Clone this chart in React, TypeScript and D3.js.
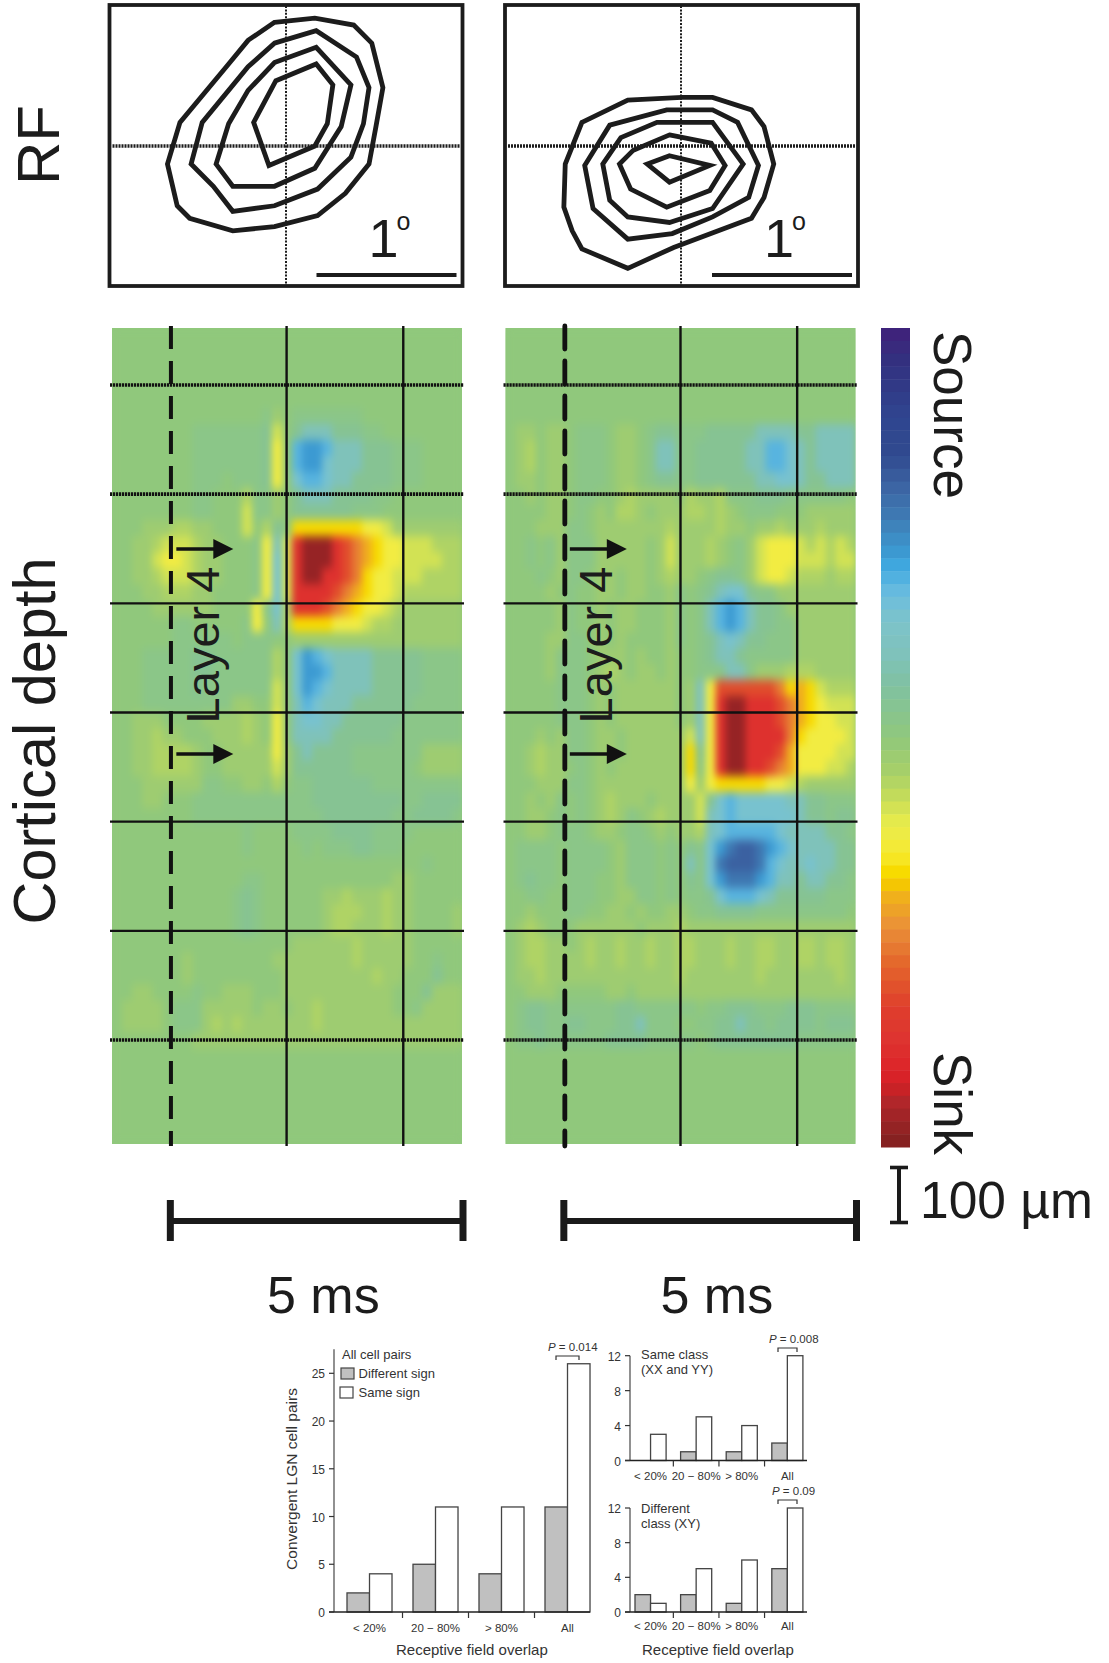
import React from 'react';
import * as d3 from 'd3';

const FONT = '"Liberation Sans", Arial, sans-serif';
const INK = '#1c1c1c';

// receptive field contours, in hundredths of a degree from the cross hair
const rfLeft = [
  [[-9,89],[20,92],[48,87],[61,74],[69,42],[64,14],[59,-13],[42,-34],[22,-50],[-9,-58],[-39,-61],[-70,-52],[-79,-43],[-86,-13],[-77,17],[-42,59],[-28,76]],
  [[-9,74],[21,83],[50,64],[59,42],[55,16],[46,-8],[22,-31],[-9,-43],[-39,-47],[-53,-29],[-69,-13],[-61,17],[-28,57]],
  [[-9,60],[21,71],[46,44],[39,14],[20,-16],[-9,-29],[-39,-29],[-51,-13],[-42,16],[-28,40]],
  [[-8,47],[21,59],[33,44],[29,16],[20,0],[-13,-14],[-24,17]],
];
const rfRight = [
  [[-72,17],[-39,33],[0,35],[22,35],[50,26],[59,14],[66,-13],[59,-37],[50,-52],[-6,-73],[-39,-88],[-72,-74],[-79,-61],[-85,-44],[-84,-13]],
  [[-52,15],[-11,26],[22,26],[40,17],[55,-14],[48,-37],[22,-51],[-7,-63],[-39,-67],[-64,-45],[-70,-14]],
  [[-18,17],[22,17],[44,-13],[22,-45],[-9,-55],[-39,-51],[-52,-39],[-57,-13],[-44,6]],
  [[-9,8],[21,2],[31,-14],[20,-32],[-11,-44],[-37,-31],[-45,-13],[-35,-3]],
  [[-9,-7],[20,-14],[-9,-26],[-25,-13]],
];

// colour bar, top (source) to bottom (sink)
const barStops = [0,.039,.112,.153,.194,.234,.275,.292,.324,.357,.397,.438,.5,.54,.573,.601,.625,.65,.662,.678,.695,.731,.775,.829,.866,.91,.93,.946,1];
const barColors = ['#41207a','#33307f','#2f4690','#30498f','#3c64a3','#3f7db5','#3c9ad2','#40aae0','#6abcdf','#7cc3cb','#7fc2bc','#80c1a0','#90c87c','#a6cf6a','#c4dc5a','#e4ea4c','#f2ec42','#f6e620','#f8de00','#f4c800','#f0b01c','#ea9038','#e4682c','#df3e2c','#de3530','#dc2228','#c82226','#b0262a','#7f2020'];

// one char per cell of the CSD maps
const levels: Record<string, number> = {
  '.': 0, ',': .05, '1': .1, '2': .17, '3': .25, '4': .33, '5': .4, '6': .5, '7': .62, '8': .75, '9': .95,
  ':': -.04, a: -.08, b: -.2, c: -.3, d: -.38, e: -.45, f: -.55, g: -.62,
};

const csdLeft = [
  '', '', '', '', '',
  '...............:,.:::::::...........',
  '........:::::::a2.abbbaaa::........',
  '........:::::::a3.deedbbbaaa:::....',
  '........:::::::a3.deecbbbaaa:::....',
  '........:::.:::a3.cddcbbaaaa:::....',
  '........::...1::,.abbbaaaa::.......',
  '........::...2::,.aaaaaa:::........',
  '...,,,11,,...2.1a.4444444332,,,,,,,',
  '..,,12221,,...:3b289998765433222111',
  '..,,23321,,...:3c289998765433222211',
  '..,,12221,,...:3c289988764332221111',
  '...,,111,,....:3c288887654332111111',
  '....,,,,,,....3:c188876543321,,,,,,',
  '......::.....:3.b14444333211,,,,,,,',
  '......::::::.:::..,,,,,,,,,,,,,,,,,',
  '...:::::aa::::::1.cedcbbbbaaaaa::::',
  '...:::::aa::::::1.ceedbbbbaaaaa::::',
  '...:::::a:::::::2.cedcbbbbaaaaa::::',
  '...:::::::::,,..2.bdcbbbaaaaaa:::::',
  '..,,,....,,,,1,.3.bccbbaaaaaa::::::',
  '..,,1,,...,,,1,.3.bbbbaaaaaa:::::::',
  '..,,1111,..,,,,,3,abaaaa:::::::,,,,',
  '..,,1111,..,,,,,2,aaaaaa::::::.,,,,',
  '...,,,,,,::..,,.1.::aaaaaa:::::::::',
  '...,,...::::::::::::aaaaaaaaa::aaaa',
  '........:::::::::::::aaaaaaa::aaaa:',
  '.............:....::::aaaa::::.....',
  '.............:.....:.:::aa:::......',
  '...............................:...',
  '.............::.............,,.....',
  '............:a:......,,1,,,1,,.....',
  '............:a:......,111,,1,,....,',
  '............:a:......,11,,,1,,....,',
  '..................,,,,,,1,,,,,.....',
  '.......,........,,,,,,,,1,,,,,..:..',
  '.......,.........,,,,,,,,,1,,...a..',
  '..,,....:..,,,...,,,,,,,,,,,...a,,,',
  '.,,,,.:::,,,,,.,,.,,1,,,,,,,..:,,,,',
  '.,,,,.:::,1,1,,,,,,,1,,,,,,,,,,,,,,',
  '........,,,,,,,,,,,,,,,,,,,,,,,,,,,',
];

const csdRight = [
  '', '', '', '', '', '',
  '.,,.,,.:::.,,.:aa:::aaaaabbbbaabbbb',
  '.,1.,,.:::.,,.:bb::aaaaabbddcbabbbb',
  '.,1.,,.:::.,,.:bb::aaaaabbddcbabbbb',
  '.,,.,,.:::.,,.:aa::aaaaaabbccbaabbb',
  '..,.,,.::..,1,,,,.1,,1:::aaa::::::.',
  '....,,.:.,.11,.,,,11,1,.:::...,,,,,',
  '...,,,::.,,,,,,,1,,,,1,,.,,1,,,1,,,',
  '..:.:,:::,,,,,.,2,,,1,.:,2333212121',
  '..:.:,:::,,,,,.,2,,,1,.:,2333222122',
  '...:.,::.,,.,,.,1,,.:aa:,2332111,11',
  '....,.:..,,.,,..,:.:abcca::,,,,,,,,',
  '.....,:..,.,,...,:.:bdedbaa:,,,,,,,',
  '.....,:..,.,,...,:.:bdedbaa::,,,,,,',
  '....,,::.,.,....,:.:abcbaa:::,,,,,,',
  '....,:::.,,,.,..,..:abba:::::,,,,,,',
  '....,:::.,1,.,,.,..:::bb:,,,111,,,,',
  '.....:::.,.,,,,,,.,b377777764542111',
  '.....:::.,.,,,,,,.,b389988876543222',
  '.....:::.,.,,,,,,.,b389988876543322',
  '...,.,::.,,.,,,,,,2b389988886433332',
  '..,1,,::.,,.,,,,,,4a389988875333322',
  '..,1,,.:.,.,,,,,,,4:389988765333221',
  '...,,,::.,,,,,,,,,3,34444433 21,,,,,'.replace(' ', ''),
  '..,.,:.:.,1,,,.,,,,2acdcccccbbaa:::',
  '..,,.:.:.,1,:.,1,,,2bcdccccccbaa:aa',
  '..,,.:::.,,.::.,.,,1bcdddddcbbbbaa:',
  '.::::.::::.,:::.:.a:cefggfedcbbbbaa',
  '.::::.::::.,:::.:.b:cfgggfdcbbcbbaa',
  '.:a::.:::..,:::.:.a:cefffedbbabbaa:',
  '..::..:::..,,::.:.::acdddcbaaaaa:::',
  '..,...::..,,.,..,,.::aaaa:::::::::.',
  '.,1,...,,,,,,.,,,1,,,,,,,,,,,,,,,,,',
  '.,11,,.,1,,1,,1,,11,,,1,,11,,11,11,',
  '.,11,,,,1,,1,,1,,11,,,1,,11,,11,11,',
  '.,,1,,,,,,,,,,,,,1,,,,,,,1,,,,,,,1,',
  '..,,,.....,,.,,,,,,,,,,,,,,,,,,,,,,',
  '.:aa:::::::aa::::::.::aaa:::aaa::::',
  '.:aa::aa:::aab:::..::aabaa:aaaa:aaa',
  '.::a::::::aaaa:::::.:aaaaaaaa::::::',
];

// time of the grid lines in ms, depth lines in um
const timeLines = [0, 2, 4];
const depthLines = [0, 200, 400, 600, 800, 1000, 1200];
const dottedDepths = [0, 200, 1200];

// bar charts
const overlap = ['< 20%', '20 \u2212 80%', '> 80%', 'All'];
const series = ['Different sign', 'Same sign'];
const allDiff = [2, 5, 4, 11];
const allSame = [4, 11, 11, 26];
const sameClassDiff = [0, 1, 1, 2];
const sameClassSame = [3, 5, 4, 12];
const diffClassDiff = [2, 2, 1, 5];
const diffClassSame = [1, 5, 6, 12];

const colorT = d3.scaleLinear<string>().domain(barStops).range(barColors).interpolate(d3.interpolateRgb);
const valueColor = (v: number) => colorT((1 + v) / 2);

const Txt = ({ x, y, size, rotate, anchor, children, ...rest }: any) => (
  <text
    x={rotate ? 0 : x}
    y={rotate ? 0 : y}
    transform={rotate ? `translate(${x},${y}) rotate(${rotate})` : undefined}
    fontSize={size}
    fontFamily={FONT}
    fill={INK}
    textAnchor={anchor || 'start'}
    {...rest}
  >
    {children}
  </text>
);

const RFPanel = ({ left, cx, contours }: any) => {
  const cy = 146;
  const x = d3.scaleLinear().domain([-100, 100]).range([cx - 139, cx + 139]);
  const y = d3.scaleLinear().domain([-100, 100]).range([cy + 139, cy - 139]);
  const path = d3.line<number[]>().x(d => x(d[0])).y(d => y(d[1])).curve(d3.curveLinearClosed);
  return (
    <g>
      <rect x={left} y={5} width={353} height={281} fill="#fff" stroke={INK} strokeWidth={3.8} />
      <line x1={left + 3} x2={left + 350} y1={cy} y2={cy} stroke={INK} strokeWidth={3.4} strokeDasharray="2 1" />
      <line x1={cx - 1} x2={cx - 1} y1={6} y2={285} stroke={INK} strokeWidth={2} strokeDasharray="2 1.4" />
      {contours.map((c: number[][], i: number) => (
        <path key={i} d={path(c) || ''} fill="none" stroke={INK} strokeWidth={4.8} strokeLinejoin="miter" />
      ))}
      <line x1={left + 207} x2={left + 347} y1={275} y2={275} stroke={INK} strokeWidth={3.8} />
      <Txt x={left + 259} y={257} size={54}>1</Txt>
      <Txt x={left + 287} y={230} size={25}>o</Txt>
    </g>
  );
};

const CSDPanel = ({ id, left, zero, rows, dashW }: any) => {
  const nCols = 35;
  const nRows = 51;
  const top = 328;
  const bottom = 1144;
  const cols = d3.scaleBand<number>().domain(d3.range(nCols)).range([left, left + 350]);
  const rws = d3.scaleBand<number>().domain(d3.range(nRows)).range([top, bottom]);
  const time = d3.scaleLinear().domain([-1, 5]).range([left, left + 350]);
  const depth = d3.scaleLinear().domain([0, 1200]).range([385, 1040]);
  const cells: any[] = [];
  d3.range(nRows).forEach(r => {
    const row = (rows[r] || '').padEnd(nCols, '.');
    d3.range(nCols).forEach(c => {
      const v = levels[row[c]] ?? 0;
      if (v !== 0) cells.push({ r, c, v });
    });
  });
  return (
    <g>
      <defs>
        <clipPath id={`clip-${id}`}>
          <rect x={left} y={top} width={350} height={bottom - top} />
        </clipPath>
        <filter id={`blur-${id}`} x="-5%" y="-5%" width="110%" height="110%" colorInterpolationFilters="sRGB">
          <feGaussianBlur stdDeviation="3.5 5" />
        </filter>
      </defs>
      <rect x={left} y={top} width={350} height={bottom - top} fill={valueColor(0)} />
      <g clipPath={`url(#clip-${id})`}>
        <g filter={`url(#blur-${id})`}>
          <rect x={left} y={top} width={350} height={bottom - top} fill={valueColor(0)} />
          {cells.map(d => (
            <rect key={`${d.r}-${d.c}`} x={cols(d.c)} y={rws(d.r)} width={cols.bandwidth() + .5} height={rws.bandwidth() + .5} fill={valueColor(d.v)} />
          ))}
        </g>
      </g>
      {depthLines.map(d => {
        const dotted = dottedDepths.includes(d);
        return (
          <line key={d} x1={left - 2} x2={left + 352} y1={depth(d)} y2={depth(d)} stroke="#111"
            strokeWidth={dotted ? 3.6 : 2.4} strokeDasharray={dotted ? '2.2 .8' : undefined} />
        );
      })}
      {timeLines.map((t, i) => (
        <line key={t} x1={time(t) + (i === 0 ? zero : zero - 1)} x2={time(t) + (i === 0 ? zero : zero - 1)} y1={326} y2={1146} stroke="#111"
          strokeWidth={i === 0 ? dashW : 2.4}
          strokeDasharray={i === 0 ? '23 12' : undefined}
          strokeLinecap={i === 0 && dashW > 4 ? 'round' : undefined} />
      ))}
      {[549, 754].map(y => (
        <g key={y}>
          <line x1={time(0) + 6} x2={time(0) + 46} y1={y} y2={y} stroke="#111" strokeWidth={3.6} />
          <path d={d3.line()([[time(0) + 43, y - 10], [time(0) + 63, y], [time(0) + 43, y + 10]]) + 'Z'} fill="#111" />
        </g>
      ))}
      <Txt x={time(0) + 48.5} y={645} size={47} rotate={-90} anchor="middle">Layer 4</Txt>
      <line x1={time(0)} x2={time(5) + 1} y1={1221} y2={1221} stroke="#1a1a1a" strokeWidth={6} />
      <line x1={time(0)} x2={time(0)} y1={1200} y2={1241} stroke="#1a1a1a" strokeWidth={7} />
      <line x1={time(5) + 1} x2={time(5) + 1} y1={1200} y2={1241} stroke="#1a1a1a" strokeWidth={7} />
      <Txt x={time(0) + 153} y={1313} size={52} anchor="middle">5 ms</Txt>
    </g>
  );
};

const BarChart = ({ diff, same, x0, step, y0, y1, yMax, ticks, labelY, xEnd, axisLeft, tickSize, fontSize, axisX }: any) => {
  const band = d3.scaleBand<string>().domain(overlap)
    .range([x0 - step * .159, x0 - step * .159 + step * 4])
    .paddingInner(.318).paddingOuter(.159);
  const inner = d3.scaleBand<string>().domain(series).range([0, band.bandwidth()]);
  const y = d3.scaleLinear().domain([0, yMax]).range([y0, y1]);
  const sep = [1, 2, 3].map(i => (band(overlap[i - 1])! + band.bandwidth() + band(overlap[i])!) / 2);
  return (
    <g fontFamily={FONT}>
      {overlap.map((c, i) => (
        <g key={c}>
          {diff[i] > 0 && (
            <rect x={band(c)! + inner(series[0])!} y={y(diff[i])} width={inner.bandwidth()} height={y0 - y(diff[i])}
              fill="#c0c0c0" stroke="#444" strokeWidth={1.3} />
          )}
          <rect x={band(c)! + inner(series[1])!} y={y(same[i])} width={inner.bandwidth()} height={y0 - y(same[i])}
            fill="#fff" stroke="#444" strokeWidth={1.3} />
          <Txt x={band(c)! + band.bandwidth() / 2} y={labelY} size={fontSize} anchor="middle" fill="#333">{c}</Txt>
        </g>
      ))}
      <line x1={axisX} x2={axisX} y1={y1 - (axisLeft ? 24 : 0)} y2={y0} stroke="#555" strokeWidth={1.3} />
      <line x1={axisX - tickSize} x2={xEnd} y1={y0} y2={y0} stroke="#222" strokeWidth={1.3} />
      {sep.map(s => <line key={s} x1={s} x2={s} y1={y0} y2={y0 + 6} stroke="#333" strokeWidth={1.2} />)}
      {ticks.map((t: number) => (
        <g key={t}>
          <line x1={axisX - tickSize} x2={axisX} y1={y(t)} y2={y(t)} stroke="#333" strokeWidth={1.2} />
          <Txt x={axisX - tickSize - 4} y={y(t) + 5} size={fontSize + .5} anchor="end" fill="#333">{t}</Txt>
        </g>
      ))}
    </g>
  );
};

const PValue = ({ x, y, x1, x2, yb, value }: any) => (
  <g>
    <Txt x={x} y={y} size={11.5} fill="#333"><tspan fontStyle="italic">P</tspan> = {value}</Txt>
    <path d={`M${x1},${yb + 4}V${yb}H${x2}V${yb + 4}`} fill="none" stroke="#333" strokeWidth={1.2} />
  </g>
);

export default function App() {
  const barScale = d3.scaleBand<number>().domain(d3.range(64)).range([328, 1147]);
  return (
    <svg width={1109} height={1663} style={{ position: 'absolute', left: 0, top: 0, display: 'block', background: '#fff' }}>
      <Txt x={59} y={145} size={60} rotate={-90} anchor="middle">RF</Txt>
      <Txt x={55} y={741} size={59.5} rotate={-90} anchor="middle">Cortical depth</Txt>

      <RFPanel left={109.5} cx={287} contours={rfLeft} />
      <RFPanel left={505} cx={682} contours={rfRight} />

      <CSDPanel id="l" left={112} zero={.6} rows={csdLeft} dashW={4} />
      <CSDPanel id="r" left={505.5} zero={1} rows={csdRight} dashW={4.8} />

      {d3.range(64).map(i => (
        <rect key={i} x={881} y={barScale(i)} width={29} height={barScale.bandwidth() + .5} fill={colorT((i + .5) / 64)} />
      ))}
      <Txt x={934} y={331} size={53} rotate={90}>Source</Txt>
      <Txt x={934} y={1052} size={53} rotate={90}>Sink</Txt>

      <line x1={899} x2={899} y1={1166} y2={1224} stroke="#1a1a1a" strokeWidth={4} />
      <line x1={890} x2={908} y1={1167.5} y2={1167.5} stroke="#1a1a1a" strokeWidth={3.6} />
      <line x1={890} x2={908} y1={1222.5} y2={1222.5} stroke="#1a1a1a" strokeWidth={3.6} />
      <Txt x={920} y={1218} size={51.5}>100 {'\u00b5'}m</Txt>

      <BarChart diff={allDiff} same={allSame} x0={347} step={66} y0={1612} y1={1373.3} yMax={25}
        ticks={[0, 5, 10, 15, 20, 25]} labelY={1632} xEnd={590} axisLeft tickSize={5} fontSize={11.5} axisX={334} />
      <Txt x={297} y={1479} size={15.5} rotate={-90} anchor="middle" fill="#333">Convergent LGN cell pairs</Txt>
      <Txt x={396} y={1655} size={15} fill="#333">Receptive field overlap</Txt>
      <Txt x={342} y={1359} size={13} fill="#333">All cell pairs</Txt>
      <rect x={341} y={1368} width={13} height={11} fill="#c0c0c0" stroke="#444" strokeWidth={1.2} />
      <Txt x={358.5} y={1378} size={13} fill="#333">{series[0]}</Txt>
      <rect x={340} y={1387} width={13} height={11} fill="#fff" stroke="#444" strokeWidth={1.2} />
      <Txt x={358.5} y={1397} size={13} fill="#333">{series[1]}</Txt>
      <PValue x={548} y={1351} x1={556} x2={579} yb={1356} value="0.014" />

      <BarChart diff={sameClassDiff} same={sameClassSame} x0={635} step={45.6} y0={1460.5} y1={1355.7} yMax={12}
        ticks={[0, 4, 8, 12]} labelY={1480} xEnd={807} tickSize={5} fontSize={11.5} axisX={630} />
      <Txt x={641} y={1359} size={13} fill="#333">Same class</Txt>
      <Txt x={641} y={1374} size={13} fill="#333">(XX and YY)</Txt>
      <PValue x={769} y={1343} x1={778} x2={797} yb={1348} value="0.008" />

      <BarChart diff={diffClassDiff} same={diffClassSame} x0={635} step={45.6} y0={1612} y1={1508} yMax={12}
        ticks={[0, 4, 8, 12]} labelY={1630} xEnd={807} tickSize={5} fontSize={11.5} axisX={630} />
      <Txt x={641} y={1513} size={13} fill="#333">Different</Txt>
      <Txt x={641} y={1528} size={13} fill="#333">class (XY)</Txt>
      <PValue x={772} y={1495} x1={778} x2={797} yb={1500} value="0.09" />
      <Txt x={642} y={1655} size={15} fill="#333">Receptive field overlap</Txt>
    </svg>
  );
}
